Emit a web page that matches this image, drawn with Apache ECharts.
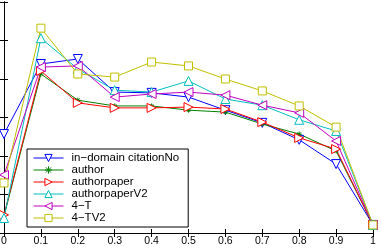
<!DOCTYPE html>
<html>
<head>
<meta charset="utf-8">
<script src="https://cdn.jsdelivr.net/npm/echarts@6/dist/echarts.min.js"></script>
<style>
  html, body { margin: 0; padding: 0; background: #fff; }
  #chart { width: 381px; height: 252px; }
</style>
</head>
<body>
<div id="chart"></div>
<script>
// lambda values on the x axis
var lambdas = [0, 0.1, 0.2, 0.3, 0.4, 0.5, 0.6, 0.7, 0.8, 0.9, 1];
var xTicks = ["0", "0.1", "0.2", "0.3", "0.4", "0.5", "0.6", "0.7", "0.8", "0.9", "1"];

// series values
var inDomain    = [0.257, 0.439, 0.452, 0.366, 0.364, 0.353, 0.319, 0.286, 0.242, 0.179, 0.021];
var author      = [0.044, 0.413, 0.345, 0.330, 0.330, 0.319, 0.314, 0.283, 0.257, 0.213, 0.021];
var authorpaper = [0.047, 0.421, 0.338, 0.325, 0.325, 0.327, 0.322, 0.288, 0.247, 0.218, 0.021];
var authorpaperV2 = [0.039, 0.506, 0.426, 0.371, 0.366, 0.395, 0.348, 0.332, 0.294, 0.265, 0.021];
var fourT       = [0.151, 0.431, 0.434, 0.353, 0.361, 0.366, 0.358, 0.332, 0.312, 0.239, 0.021];
var fourTV2     = [0.130, 0.532, 0.413, 0.405, 0.444, 0.434, 0.400, 0.369, 0.330, 0.275, 0.021];

var names = ["in\u2212domain citationNo", "author", "authorpaper", "authorpaperV2", "4\u2212T", "4\u2212TV2"];
var colors = ['#0000ff', '#008000', '#ff0000', '#00bfbf', '#bf00bf', '#bfbf00'];

function pairs(arr) {
  return arr.map(function (v, i) { return [lambdas[i], v]; });
}

var star = 'path://M0,-10L0,10M-10,0L10,0M-7,-7L7,7M-7,7L7,-7';

function mkSeries(name, data, color, symbol, rotate, size) {
  return {
    name: name,
    type: 'line',
    data: pairs(data),
    symbol: symbol,
    symbolRotate: rotate,
    symbolSize: size,
    showAllSymbol: true,
    lineStyle: { color: color, width: 1 },
    itemStyle: { color: '#fff', borderColor: color, borderWidth: 1 },
    emphasis: { disabled: true }
  };
}

var chart = echarts.init(document.getElementById('chart'));
var font = 'Liberation Sans, Arial, sans-serif';

var legendData = names.map(function (n, i) {
  return {
    name: n,
    itemStyle: { color: '#fff', borderColor: colors[i], borderWidth: 1 },
    lineStyle: { color: colors[i], width: 1 }
  };
});

var option = {
  animation: false,
  grid: { left: 4, right: 8, top: 2, bottom: 19, outerBoundsMode: 'none', containLabel: false },
  legend: {
    orient: 'vertical',
    left: 27,
    top: 149,
    itemWidth: 30,
    itemHeight: 9,
    itemGap: 0,
    padding: [3, 9, 3, 6],
    borderColor: '#000',
    borderWidth: 1,
    backgroundColor: '#fff',
    textStyle: { fontFamily: font, fontSize: 11.5, lineHeight: 12, color: '#000', padding: [0, 0, 0, 3] },
    data: legendData
  },
  xAxis: [
    {
      type: 'value', min: 0, max: 1, interval: 0.1,
      name: '\u03bb', nameLocation: 'middle', nameGap: 16,
      nameTextStyle: { fontFamily: font, fontSize: 10, color: '#000' },
      axisLine: { lineStyle: { color: '#000', width: 1 } },
      axisTick: { inside: true, length: 4, lineStyle: { color: '#000' } },
      axisLabel: {
        fontFamily: font, fontSize: 10.5, color: '#000', margin: 3,
        formatter: function (v) { return xTicks[Math.round(v * 10)]; }
      },
      splitLine: { show: false }
    },
    {
      type: 'value', min: 0, max: 1, interval: 0.1, position: 'top',
      axisLine: { lineStyle: { color: '#000', width: 1 } },
      axisTick: { inside: true, length: 4, lineStyle: { color: '#000' } },
      axisLabel: { show: false },
      splitLine: { show: false }
    }
  ],
  yAxis: [
    {
      type: 'value', min: 0, max: 0.6, interval: 0.1,
      axisLine: { show: true, lineStyle: { color: '#000', width: 1 } },
      axisTick: { show: true, inside: true, length: 4, lineStyle: { color: '#000' } },
      axisLabel: { show: false },
      splitLine: { show: false }
    },
    {
      type: 'value', min: 0, max: 0.6, interval: 0.1, position: 'right',
      axisLine: { show: true, lineStyle: { color: '#000', width: 1 } },
      axisTick: { show: true, inside: true, length: 4, lineStyle: { color: '#000' } },
      axisLabel: { show: false },
      splitLine: { show: false }
    }
  ],
  series: [
    mkSeries(names[0], inDomain, colors[0], 'triangle', 180, 9),
    mkSeries(names[1], author, colors[1], star, 0, 5),
    mkSeries(names[2], authorpaper, colors[2], 'triangle', -90, 9),
    mkSeries(names[3], authorpaperV2, colors[3], 'triangle', 0, 9),
    mkSeries(names[4], fourT, colors[4], 'triangle', 90, 9),
    mkSeries(names[5], fourTV2, colors[5], 'rect', 0, 8)
  ]
};

chart.setOption(option);
</script>
</body>
</html>
